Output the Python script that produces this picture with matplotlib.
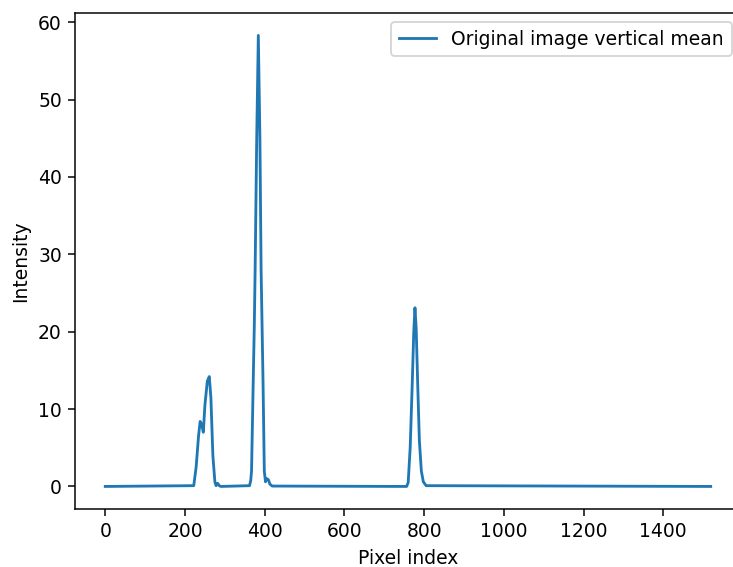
import numpy as np
import matplotlib
matplotlib.use("Agg")
import matplotlib.pyplot as plt

# key points (pixel index, mean intensity)
pixel_idx = [0, 222, 228, 234, 238, 242, 246, 250, 256, 261, 265, 270, 275, 278,
             282, 286, 290, 362, 365, 367, 371, 374, 376, 380, 384, 388, 391,
             396, 399, 402, 405, 409, 413, 419, 756, 760, 765, 770, 774, 777,
             780, 784, 788, 793, 798, 805, 1519]
intensity = [0.0, 0.1, 2.5, 6.5, 8.4, 8.0, 7.0, 10.5, 13.6, 14.2, 11.5, 4.0, 0.6, 0.1,
             0.4, 0.1, 0.0, 0.1, 0.8, 2.0, 13.0, 21.0, 28.0, 45.0, 58.3, 45.0, 28.0,
             13.0, 2.0, 0.6, 1.0, 0.9, 0.3, 0.05, 0.0, 0.5, 5.0, 13.0, 20.0, 23.1,
             20.5, 13.0, 6.0, 2.0, 0.6, 0.1, 0.0]

DPI = 135
fig = plt.figure(figsize=(733 / DPI, 567 / DPI), dpi=DPI)
ax = fig.add_axes([0.1023, 0.1023, 0.9086, 0.875])
ax.plot(pixel_idx, intensity, label="Original image vertical mean")
ax.set_xlabel("Pixel index")
ax.set_ylabel("Intensity")
ax.legend(loc="upper right")

fig.savefig("out.png", dpi=DPI)
